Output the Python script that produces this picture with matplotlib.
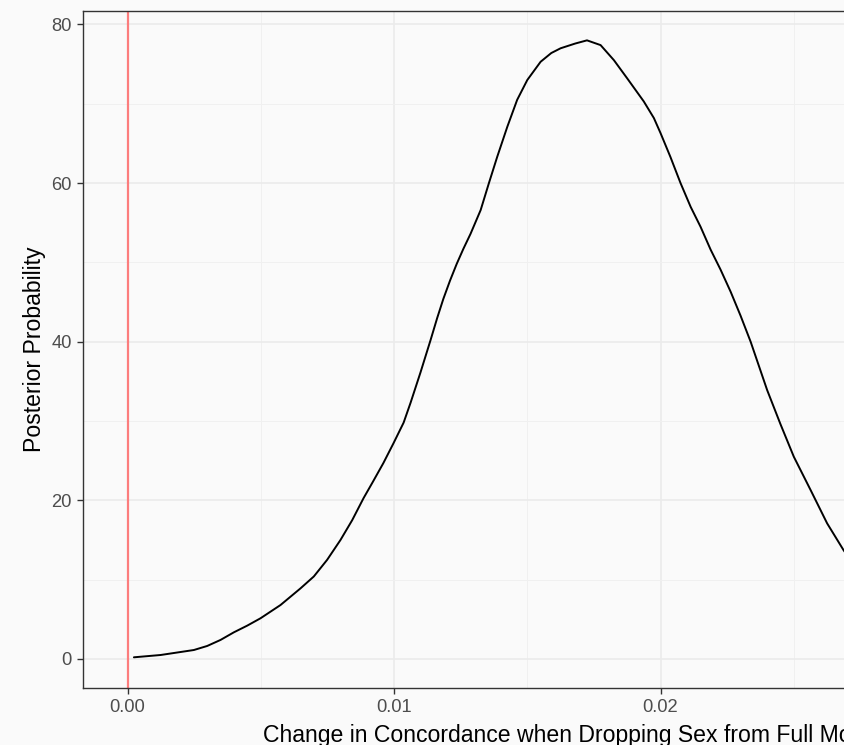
import matplotlib
matplotlib.use("Agg")
import matplotlib.pyplot as plt
from matplotlib.ticker import FixedLocator

# Density curve
delta_c = [0.00024, 0.00124, 0.00249, 0.00299, 0.00349, 0.00399, 0.00449, 0.00499,
           0.00574, 0.00649, 0.00699, 0.00749, 0.00799, 0.00843, 0.00886, 0.0092,
           0.0096, 0.00998, 0.01036, 0.01062, 0.01099, 0.01137, 0.01162, 0.01185,
           0.01210, 0.01235, 0.01260, 0.01287, 0.01325, 0.01356, 0.01387, 0.01425,
           0.01462, 0.0150, 0.0155, 0.0159, 0.01625, 0.0168, 0.01724, 0.01775,
           0.01825, 0.01875, 0.01937, 0.01975, 0.0200, 0.02037, 0.02075, 0.02113,
           0.0215, 0.02188, 0.02225, 0.02263, 0.02300, 0.02338, 0.0240, 0.0245,
           0.0250, 0.02563, 0.02625, 0.02687, 0.0270]
density = [0.21, 0.5, 1.13, 1.64, 2.4, 3.36, 4.2, 5.13,
           6.8, 8.9, 10.4, 12.5, 15.0, 17.5, 20.3, 22.3,
           24.7, 27.2, 29.8, 32.3, 36.1, 40.2, 43.0, 45.4,
           47.7, 49.8, 51.7, 53.6, 56.6, 60.0, 63.3, 67.1,
           70.5, 73.0, 75.3, 76.4, 77.0, 77.6, 78.0, 77.4,
           75.5, 73.2, 70.3, 68.2, 66.3, 63.3, 60.0, 57.0,
           54.5, 51.6, 49.1, 46.3, 43.3, 40.0, 33.9, 29.6,
           25.5, 21.3, 17.1, 13.7, 13.1]
ref_line = 0.0

x_ticks = [0.0, 0.01, 0.02, 0.03]
x_tick_labels = ["0.00", "0.01", "0.02", "0.03"]
y_ticks = [0, 20, 40, 60, 80]

plt.rcParams['font.family'] = ['Liberation Sans', 'DejaVu Sans']

bg = '#FAFAFA'
fig = plt.figure(figsize=(8.45, 7.45), dpi=100, facecolor=bg)
ax = fig.add_axes([83/845, 57/745, (1063-83)/845, (688-11)/745])
ax.set_facecolor(bg)

ax.set_xlim(-0.00167, 0.0351)
ax.set_ylim(-3.66, 81.7)

ax.xaxis.set_major_locator(FixedLocator(x_ticks))
ax.set_xticklabels(x_tick_labels)
ax.xaxis.set_minor_locator(FixedLocator([0.005, 0.015, 0.025]))
ax.yaxis.set_major_locator(FixedLocator(y_ticks))
ax.yaxis.set_minor_locator(FixedLocator([10, 30, 50, 70]))

ax.grid(which='major', color='#EBEBEB', linewidth=1.2, zorder=0)
ax.grid(which='minor', color='#F0F0F0', linewidth=0.7, zorder=0)
ax.set_axisbelow(True)

ax.axvline(ref_line, color='#FC7D7D', linewidth=1.6, zorder=2)
ax.plot(delta_c, density, color='black', linewidth=1.4, zorder=3,
        solid_joinstyle='round', solid_capstyle='round')

for s in ax.spines.values():
    s.set_color('#333333')
    s.set_linewidth(1.0)

ax.tick_params(which='major', length=4, width=1.0, color='#333333',
               labelcolor='#4D4D4D', labelsize=13.2, pad=4)
ax.tick_params(which='minor', length=0)

ax.set_xlabel("Change in Concordance when Dropping Sex from Full Model",
              fontsize=16.6, color='black', labelpad=6)
ax.set_ylabel("Posterior Probability", fontsize=16.6, color='black', labelpad=4)

fig.savefig("out.png", dpi=100, facecolor=bg)
